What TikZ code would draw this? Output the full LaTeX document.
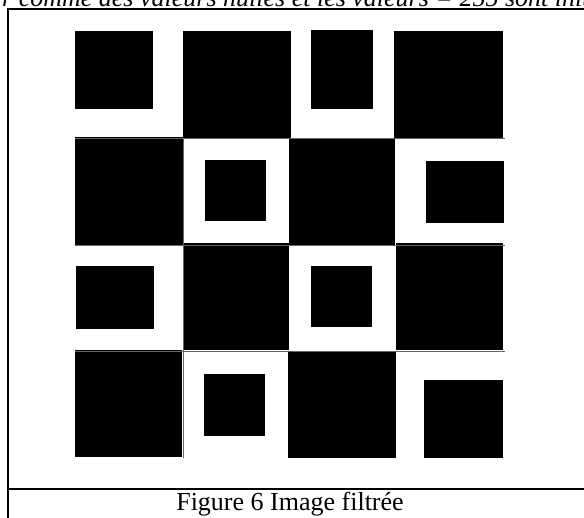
\documentclass[tikz,border=0pt]{standalone}
\usepackage{fontspec}
\setmainfont{Liberation Serif}
\begin{document}
\begin{tikzpicture}[
    x=1pt, y=-1pt,
    frameline/.style={line width=2pt},
    gridline/.style={black!60, line width=0.8pt},
    captext/.style={font=\fontsize{26}{30}\selectfont, inner sep=0pt}
]
    \useasboundingbox (0,0) rectangle (584,518);
    % header line, cut at the top of the page
    \begin{scope}
        \clip (0,0) rectangle (584,8.5);
        \node[captext, font=\fontsize{26}{30}\selectfont\itshape, anchor=base west] (header) at (2,7) {r comme des valeurs nulles et les valeurs = 255 sont initialisées};
    \end{scope}
    % frame
    \draw[frameline] (8,518) -- (8,9.5) -- (584,9.5);
    \draw[frameline] (8,489) -- (584,489);
    % large squares
    \foreach \xa/\ya/\xb/\yb in {183/31/291/138, 394/31/503/138,
        75/137/183/246, 289/138/395/246, 183/243/289/350, 396/243/503/350,
        75/350/182/457, 288/351/396/458}
        \fill (\xa,\ya) rectangle (\xb,\yb);
    % small squares
    \foreach \xa/\ya/\xb/\yb in {75/31/153/109, 311/30/373/109,
        205/160/266/221, 426/161/504/223, 76/266/154/329, 311/266/372/327,
        204/374/265/436, 424/380/503/458}
        \fill (\xa,\ya) rectangle (\xb,\yb);
    % thin lines between rows
    \foreach \y in {138,245,351}
        \draw[gridline] (75,\y) -- (505,\y);
    \draw[gridline] (183,138) -- (183,458);
    % caption
    \node[captext, anchor=base] (caption) at (290,511) {Figure 6 Image filtrée};
\end{tikzpicture}
\end{document}
